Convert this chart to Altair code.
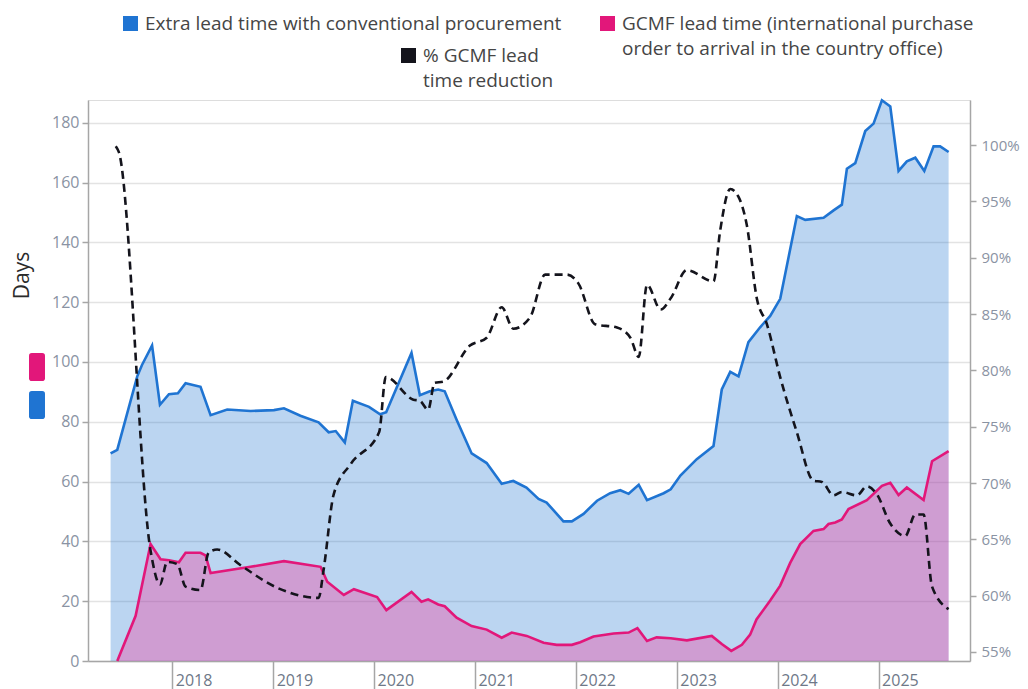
import altair as alt
import pandas as pd

# ---- data (decimal year, value) ----
blue_year = [2017.389, 2017.455, 2017.653, 2017.700, 2017.800, 2017.878, 2017.967, 2018.056,
             2018.132, 2018.280, 2018.380, 2018.545, 2018.776, 2019.008, 2019.107, 2019.270,
             2019.450, 2019.550, 2019.620, 2019.710, 2019.790, 2019.950, 2020.060, 2020.120,
             2020.371, 2020.454, 2020.553, 2020.636, 2020.700, 2020.818, 2020.967, 2021.116,
             2021.265, 2021.380, 2021.510, 2021.630, 2021.710, 2021.877, 2021.960, 2022.076,
             2022.210, 2022.340, 2022.440, 2022.523, 2022.623, 2022.705, 2022.870, 2022.940,
             2023.036, 2023.198, 2023.364, 2023.446, 2023.530, 2023.612, 2023.710, 2023.826,
             2023.926, 2024.025, 2024.190, 2024.273, 2024.455, 2024.554, 2024.636, 2024.686,
             2024.769, 2024.868, 2024.950, 2025.033, 2025.116, 2025.198, 2025.280, 2025.364,
             2025.453, 2025.545, 2025.610, 2025.694]
blue_days = [69.4, 70.6, 95.2, 99.0, 105.5, 85.7, 89.2, 89.5,
             92.9, 91.7, 82.2, 84.1, 83.6, 83.9, 84.5, 82.0,
             79.8, 76.5, 76.9, 73.1, 87.0, 85.0, 82.5, 83.2,
             103.0, 88.9, 90.2, 90.8, 90.2, 80.7, 69.4, 66.2,
             59.3, 60.2, 58.0, 54.2, 53.0, 46.7, 46.7, 49.2,
             53.6, 56.1, 57.1, 55.9, 58.9, 53.8, 56.1, 57.4,
             62.0, 67.5, 71.9, 90.8, 96.7, 95.2, 106.6, 111.6,
             115.4, 121.1, 148.8, 147.5, 148.2, 150.7, 152.6, 164.6,
             166.5, 177.2, 179.7, 187.5, 185.4, 163.9, 167.1, 168.3,
             163.9, 172.1, 172.1, 170.2]

pink_year = [2017.455, 2017.637, 2017.785, 2017.884, 2017.967, 2018.066, 2018.132, 2018.280,
             2018.330, 2018.380, 2018.776, 2019.107, 2019.470, 2019.536, 2019.700, 2019.800,
             2020.030, 2020.122, 2020.371, 2020.470, 2020.536, 2020.636, 2020.700, 2020.818,
             2020.967, 2021.116, 2021.265, 2021.364, 2021.513, 2021.680, 2021.810, 2021.960,
             2022.043, 2022.175, 2022.374, 2022.523, 2022.610, 2022.705, 2022.800, 2022.940,
             2023.100, 2023.347, 2023.446, 2023.540, 2023.645, 2023.727, 2023.790, 2023.926,
             2024.025, 2024.124, 2024.223, 2024.355, 2024.455, 2024.504, 2024.570, 2024.636,
             2024.702, 2024.884, 2025.033, 2025.116, 2025.198, 2025.280, 2025.446, 2025.530,
             2025.694]
pink_days = [0.0, 15.1, 39.1, 34.0, 33.7, 33.0, 36.2, 36.2,
             35.3, 29.4, 31.5, 33.4, 31.5, 26.5, 22.1, 24.0,
             21.4, 17.0, 23.1, 19.8, 20.6, 18.9, 18.3, 14.5,
             11.7, 10.5, 7.8, 9.5, 8.4, 6.1, 5.4, 5.4,
             6.3, 8.2, 9.2, 9.5, 11.0, 6.7, 7.9, 7.6,
             6.9, 8.4, 5.7, 3.4, 5.4, 8.8, 13.9, 20.2,
             25.2, 32.8, 39.1, 43.5, 44.1, 45.8, 46.3, 47.3,
             50.8, 53.8, 58.6, 59.6, 55.5, 58.0, 53.8, 66.8,
             70.2]

pct_year = [2017.440, 2017.470, 2017.785, 2017.878, 2017.950, 2018.050, 2018.132, 2018.280,
            2018.360, 2018.445, 2018.677, 2019.040, 2019.450, 2019.500, 2019.600, 2019.770,
            2020.050, 2020.116, 2020.390, 2020.454, 2020.536, 2020.600, 2020.685, 2020.950,
            2021.116, 2021.265, 2021.380, 2021.546, 2021.695, 2021.910, 2022.026, 2022.190,
            2022.407, 2022.540, 2022.623, 2022.705, 2022.840, 2022.940, 2023.100, 2023.364,
            2023.430, 2023.530, 2023.612, 2023.694, 2023.793, 2023.893, 2024.025, 2024.190,
            2024.355, 2024.438, 2024.554, 2024.636, 2024.785, 2024.884, 2024.983, 2025.116,
            2025.264, 2025.364, 2025.446, 2025.530, 2025.694]
pct_value = [99.9, 99.4, 64.0, 61.0, 63.0, 62.8, 60.8, 60.5,
             63.8, 64.1, 62.7, 60.7, 59.8, 62.3, 69.0, 71.7,
             74.5, 79.4, 77.4, 77.3, 76.5, 78.9, 79.0, 82.2,
             82.9, 85.6, 83.7, 84.7, 88.5, 88.5, 87.7, 84.1,
             83.8, 82.9, 81.2, 87.6, 85.4, 86.4, 88.9, 87.9,
             92.4, 96.1, 95.4, 92.9, 86.4, 84.1, 79.4, 74.5,
             70.2, 70.1, 68.9, 69.2, 68.9, 69.7, 69.0, 66.4,
             65.3, 67.2, 67.2, 60.8, 58.8]

year_ticks = [2018, 2019, 2020, 2021, 2022, 2023, 2024, 2025]
day_ticks = [0, 20, 40, 60, 80, 100, 120, 140, 160, 180]
pct_ticks = [55, 60, 65, 70, 75, 80, 85, 90, 95, 100]

BLUE_LABEL = "Extra lead time with conventional procurement"
PINK_LABEL = "GCMF lead time (international  purchase|order to arrival in the country office)"
PCT_LABEL = "% GCMF lead|time reduction"
side_keys = ["GCMF", "Extra"]

BLUE = "#1f74d2"
PINK = "#e2177a"
PINK_FILL = "#ff1f8a"
DASH = "#14141c"
FONT = "Open Sans"
AXIS_GRAY = "#a6a6a6"
LABEL_GRAY = "#8a93a3"

blue_df = pd.DataFrame({"year": blue_year, "days": blue_days, "series": BLUE_LABEL, "side": "Extra"})
pink_df = pd.DataFrame({"year": pink_year, "days": pink_days, "series": PINK_LABEL})
pct_df = pd.DataFrame({"year": pct_year, "pct": pct_value, "series": PCT_LABEL})

x_enc = alt.X(
    "year:Q",
    scale=alt.Scale(domain=[2017.165, 2025.906], nice=False, zero=False),
    axis=alt.Axis(values=year_ticks, format="d", title=None, grid=False,
                  tickSize=28, tickColor=AXIS_GRAY, tickWidth=1.5,
                  domainColor=AXIS_GRAY, domainWidth=1.5,
                  labelPadding=-17, labelAlign="left", labelBaseline="top", labelOffset=3,
                  labelFlush=False, labelOverlap=False,
                  labelColor="#6e7888", labelFont=FONT, labelFontSize=16),
)

y_left = alt.Y(
    "days:Q",
    scale=alt.Scale(domain=[0, 187.6], nice=False, zero=True),
    axis=alt.Axis(values=day_ticks, title="Days", titleX=-66, titleY=175,
                  titleAlign="center", titleBaseline="middle",
                  titleFont=FONT, titleFontSize=21, titleFontWeight="normal", titleColor="#2a2a2a",
                  grid=True, gridColor="#e3e3e3", gridWidth=1.5,
                  tickSize=6, tickColor=AXIS_GRAY, tickWidth=1.5,
                  domainColor=AXIS_GRAY, domainWidth=1.5,
                  labelPadding=3, labelColor=LABEL_GRAY, labelFont=FONT, labelFontSize=16),
)

y_right = alt.Y(
    "pct:Q",
    scale=alt.Scale(domain=[54.2, 104], nice=False, zero=False),
    axis=alt.Axis(orient="right", values=pct_ticks, labelExpr="datum.value + '%'", title=None,
                  grid=False, tickSize=6, tickColor=AXIS_GRAY, tickWidth=1.5,
                  domainColor=AXIS_GRAY, domainWidth=1.5,
                  labelPadding=5, labelColor=LABEL_GRAY, labelFont=FONT, labelFontSize=15),
)


def top_legend(lx, ly, col):
    return alt.Legend(orient="none", legendX=lx, legendY=ly, title=None, padding=0,
                      symbolType="square", symbolSize=225, symbolFillColor=col,
                      symbolStrokeWidth=0, symbolOpacity=1,
                      labelExpr="split(datum.label, '|')", labelLimit=900,
                      labelFont=FONT, labelFontSize=19, labelColor="#454545", labelOffset=5)


ROUNDED = ("M-0.371,-1 L0.371,-1 Q0.571,-1 0.571,-0.8 L0.571,0.8 Q0.571,1 0.371,1 "
           "L-0.371,1 Q-0.571,1 -0.571,0.8 L-0.571,-0.8 Q-0.571,-1 -0.371,-1 Z")

blue_area = alt.Chart(blue_df).mark_area(opacity=0.3).encode(
    x=x_enc, y=y_left,
    color=alt.Color("side:N", scale=alt.Scale(domain=side_keys, range=[PINK, BLUE]),
                    legend=alt.Legend(orient="none", legendX=-65, legendY=253, direction="vertical",
                                      title=None, padding=0, symbolType=ROUNDED, symbolSize=784,
                                      symbolOpacity=1, symbolStrokeWidth=0, labelExpr="''",
                                      rowPadding=10)),
)
pink_area = alt.Chart(pink_df).mark_area(color=PINK_FILL, opacity=0.3).encode(x=x_enc, y=y_left)

blue_line = alt.Chart(blue_df).mark_line(strokeWidth=2.6).encode(
    x=x_enc, y=y_left,
    color=alt.Color("series:N", scale=alt.Scale(domain=[BLUE_LABEL], range=[BLUE]),
                    legend=top_legend(33, -86, BLUE)),
)
pink_line = alt.Chart(pink_df).mark_line(strokeWidth=2.6).encode(
    x=x_enc, y=y_left,
    color=alt.Color("series:N", scale=alt.Scale(domain=[PINK_LABEL], range=[PINK]),
                    legend=top_legend(510, -86, PINK)),
)
dash_line = alt.Chart(pct_df).mark_line(strokeWidth=2.6, strokeDash=[8, 5], interpolate="monotone").encode(
    x=x_enc, y=y_right,
    color=alt.Color("series:N", scale=alt.Scale(domain=[PCT_LABEL], range=[DASH]),
                    legend=top_legend(311, -54, DASH)),
)

inner = alt.layer(blue_area, pink_area, blue_line, pink_line).resolve_scale(color="independent")
chart = (
    alt.layer(inner, dash_line)
    .resolve_scale(y="independent", color="independent")
    .properties(width=882, height=561,
                autosize=alt.AutoSizeParams(type="none"),
                padding={"left": 80, "top": 92, "right": 50, "bottom": 28})
    .configure_view(strokeWidth=0)
    .configure(style={"guide-label": {"lineHeight": 25}})
)

chart.save("out.html", embed_options={"renderer": "svg", "actions": False})
